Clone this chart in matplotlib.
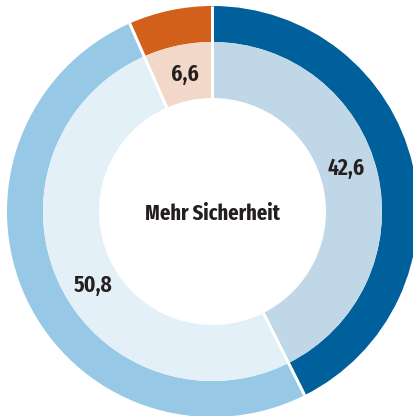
import numpy as np
import matplotlib
matplotlib.use("Agg")
import matplotlib.pyplot as plt

# data
values = [42.6, 50.8, 6.6]
labels = ["42,6", "50,8", "6,6"]
center_text = "Mehr Sicherheit"

outer_colors = ["#00609c", "#97c8e6", "#d2601a"]
inner_colors = ["#bfd7e7", "#e3f0f8", "#f2d8c8"]

plt.rcParams['font.family'] = ['Fira Sans Extra Condensed', 'DejaVu Sans']

fig = plt.figure(figsize=(4.14, 4.16), dpi=100)
ax = fig.add_axes([0, 0, 1, 1])
ax.set_aspect('equal')
ax.axis('off')

r_out, r_mid, r_in = 205.5, 169.5, 113.5

ax.pie(values, radius=r_out, colors=outer_colors, startangle=90,
       counterclock=False, wedgeprops=dict(width=r_out - r_mid, linewidth=0))
ax.pie(values, radius=r_mid, colors=inner_colors, startangle=90,
       counterclock=False, wedgeprops=dict(width=r_mid - r_in, linewidth=0))
# axes in pixel units, pie centred at (212.5, 211.5) from top-left
ax.set_xlim(-212.5, 414 - 212.5)
ax.set_ylim(-(416 - 211.5), 211.5)

# white separators between segments
bounds = 90 - 360 * np.concatenate([[0], np.cumsum(values)[:-1]]) / sum(values)
for a in np.deg2rad(bounds):
    ax.plot([r_in * np.cos(a), r_out * np.cos(a)],
            [r_in * np.sin(a), r_out * np.sin(a)],
            color="white", lw=2.2, solid_capstyle='butt')

# value labels in the inner ring
mids = bounds - 180 * np.array(values) / sum(values)
shift = [4.5, 6.5, -0.5]
for lab, m, s in zip(labels, mids, shift):
    a = np.deg2rad(m + s)
    ax.text(140 * np.cos(a), 140 * np.sin(a), lab, ha='center', va='center',
            fontsize=17, fontweight='semibold', color="#231f20")

ax.text(0, -2, center_text, ha='center', va='center', fontsize=16,
        fontweight='bold', color="#231f20")

fig.savefig("out.png", dpi=100)
